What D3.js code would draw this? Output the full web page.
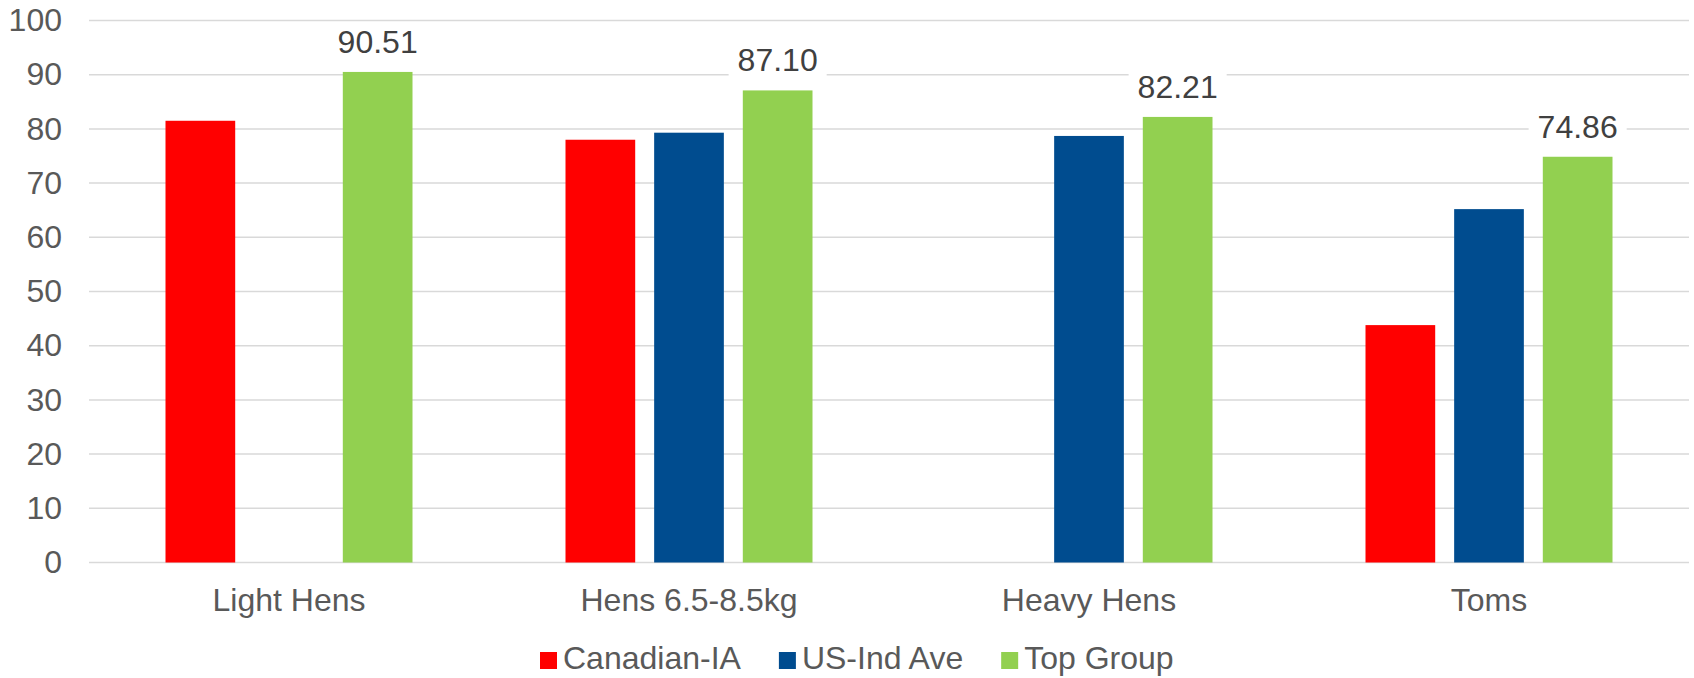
<!DOCTYPE html>
<html>
<head>
<meta charset="utf-8">
<script src="https://cdn.jsdelivr.net/npm/d3@7"></script>
<style>
  html, body { margin: 0; padding: 0; background: #fff; }
  svg { display: block; font-family: "Liberation Sans", Arial, sans-serif; }
</style>
</head>
<body>
<svg id="chart" width="1694" height="678"></svg>
<script>
// Categories and series
const categories = ["Light Hens", "Hens 6.5-8.5kg", "Heavy Hens", "Toms"];
const seriesNames = ["Canadian-IA", "US-Ind Ave", "Top Group"];
const canadianIA = [81.5, 78.0, null, 43.8];
const usIndAve = [null, 79.3, 78.7, 65.2];
const topGroup = [90.51, 87.10, 82.21, 74.86];
const yTicks = [0, 10, 20, 30, 40, 50, 60, 70, 80, 90, 100];
const seriesColors = ["#FF0000", "#004C8F", "#92D050"];

const seriesValues = [canadianIA, usIndAve, topGroup];
const labelledSeries = "Top Group";

const W = 1694, H = 678;
const plot = { left: 89, right: 1689, top: 20.5, bottom: 562.5 };
const fontSize = 32;

const svg = d3.select("#chart");

const y = d3.scaleLinear().domain([0, 100]).range([plot.bottom, plot.top]);
const x0 = d3.scaleBand().domain(categories)
  .range([plot.left, plot.right])
  .paddingInner(0.3825).paddingOuter(0.3825 / 2);
const x1 = d3.scaleBand().domain(seriesNames)
  .range([0, x0.bandwidth()])
  .paddingInner(0.2138).paddingOuter(0);
const color = d3.scaleOrdinal().domain(seriesNames).range(seriesColors);

// Horizontal gridlines
const grid = svg.append("g").attr("class", "grid");
grid.selectAll("line").data(yTicks).join("line")
  .attr("x1", plot.left).attr("x2", plot.right)
  .attr("y1", d => y(d)).attr("y2", d => y(d))
  .attr("stroke", "#d9d9d9").attr("stroke-width", 1.5);

// Y axis tick labels
const yAxis = d3.axisLeft(y).tickValues(yTicks).tickSize(0).tickPadding(0);
svg.append("g")
  .attr("transform", `translate(${plot.left - 27},0)`)
  .call(yAxis)
  .call(g => g.select(".domain").remove())
  .call(g => g.selectAll("text")
    .attr("fill", "#595959")
    .attr("font-size", fontSize)
    .attr("font-family", "Liberation Sans, Arial, sans-serif"));

// Category labels
const xAxis = d3.axisBottom(x0).tickSize(0).tickPadding(0);
svg.append("g")
  .attr("transform", `translate(0,${plot.bottom})`)
  .call(xAxis)
  .call(g => g.select(".domain").remove())
  .call(g => g.selectAll("text")
    .attr("fill", "#595959")
    .attr("font-size", fontSize)
    .attr("font-family", "Liberation Sans, Arial, sans-serif")
    .attr("dy", null)
    .attr("y", 48));

// Bars
const rows = [];
categories.forEach((c, ci) => {
  seriesNames.forEach((s, si) => {
    const v = seriesValues[si][ci];
    if (v != null) rows.push({ category: c, series: s, value: v });
  });
});

svg.append("g").selectAll("rect").data(rows).join("rect")
  .attr("x", d => x0(d.category) + x1(d.series))
  .attr("width", x1.bandwidth())
  .attr("y", d => y(d.value))
  .attr("height", d => y(0) - y(d.value))
  .attr("fill", d => color(d.series));

// Value labels on the Top Group bars, with a white backing over the gridlines
const labels = svg.append("g").selectAll("g")
  .data(rows.filter(d => d.series === labelledSeries)).join("g");
labels.each(function(d) {
  const g = d3.select(this);
  const cx = x0(d.category) + x1(d.series) + x1.bandwidth() / 2;
  const t = g.append("text")
    .attr("x", cx)
    .attr("y", y(d.value) - 19)
    .attr("text-anchor", "middle")
    .attr("fill", "#404040")
    .attr("font-size", fontSize)
    .text(d.value.toFixed(2));
  const bb = t.node().getBBox();
  g.insert("rect", "text")
    .attr("x", bb.x - 9).attr("y", bb.y - 2)
    .attr("width", bb.width + 18).attr("height", bb.height + 4)
    .attr("fill", "#fff");
});

// Legend
const legend = svg.append("g").attr("class", "legend");
let lx = 540;
const ly = 669;
seriesNames.forEach(s => {
  legend.append("rect")
    .attr("x", lx).attr("y", ly - 17)
    .attr("width", 17).attr("height", 17)
    .attr("fill", color(s));
  const t = legend.append("text")
    .attr("x", lx + 23).attr("y", ly)
    .attr("fill", "#595959")
    .attr("font-size", fontSize)
    .text(s);
  lx += 23 + t.node().getComputedTextLength() + 38;
});
</script>
</body>
</html>
